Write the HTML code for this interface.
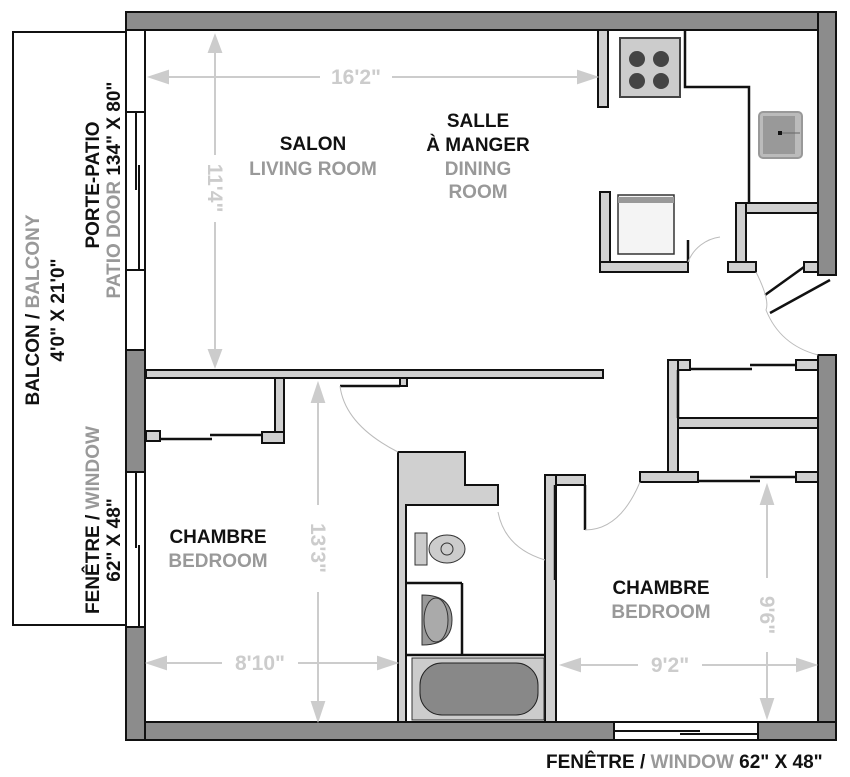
<!DOCTYPE html>
<html><head><meta charset="utf-8"><style>
html,body{margin:0;padding:0;background:#fff;}
svg{display:block;}
text{font-family:"Liberation Sans Narrow","Liberation Sans",sans-serif;font-weight:bold;}
.k{fill:#111;}.g{fill:#999;}
.d{fill:#ccc;font-family:"Liberation Sans",sans-serif;font-weight:normal;}
</style></head><body>
<svg width="850" height="777" viewBox="0 0 850 777" xmlns="http://www.w3.org/2000/svg">
<rect x="13" y="32" width="113" height="593" fill="#fff" stroke="#111" stroke-width="2"/>
<g fill="#8c8c8c" stroke="#111" stroke-width="2">
<rect x="126" y="12" width="710" height="18"/>
<rect x="818" y="12" width="18" height="263"/>
<rect x="818" y="355" width="18" height="385"/>
<rect x="126" y="722" width="488" height="18"/>
<rect x="758" y="722" width="78" height="18"/>
<rect x="126" y="350" width="19" height="122"/>
<rect x="126" y="627" width="19" height="113"/>
</g>
<g fill="none" stroke="#111" stroke-width="2">
<rect x="126" y="30" width="19" height="320"/>
<line x1="126" y1="112" x2="145" y2="112"/><line x1="126" y1="270" x2="145" y2="270"/>
<line x1="136" y1="112" x2="136" y2="190"/><line x1="139" y1="165" x2="139" y2="270"/>
<rect x="126" y="472" width="19" height="155"/>
<line x1="136" y1="472" x2="136" y2="548"/><line x1="139" y1="545" x2="139" y2="627"/>
<rect x="614" y="722" width="144" height="18"/>
<line x1="614" y1="731" x2="700" y2="731"/><line x1="680" y1="734" x2="758" y2="734"/>
</g>
<g fill="#d0d0d0" stroke="#111" stroke-width="2">
<rect x="146" y="370" width="457" height="8"/>
<rect x="275" y="378" width="9" height="65"/>
<rect x="262" y="432" width="22" height="11"/>
<rect x="146" y="431" width="14" height="10"/>
<rect x="400" y="378" width="7" height="8"/>
<rect x="598" y="30" width="10" height="77"/>
<rect x="600" y="192" width="10" height="80"/>
<rect x="600" y="262" width="88" height="10"/>
<rect x="736" y="203" width="82" height="10"/>
<rect x="736" y="203" width="10" height="62"/>
<rect x="728" y="262" width="28" height="10"/>
<rect x="804" y="262" width="14" height="10"/>
<rect x="668" y="360" width="22" height="10"/>
<rect x="668" y="360" width="10" height="118"/>
<rect x="678" y="418" width="140" height="10"/>
<rect x="640" y="472" width="58" height="10"/>
<rect x="796" y="360" width="22" height="10"/>
<rect x="796" y="472" width="22" height="10"/>
<path d="M398 452 H465 V485 H498 V505 H406 V722 H398 Z"/>
<rect x="545" y="475" width="40" height="10"/>
<rect x="545" y="475" width="11" height="247"/>
</g>
<g fill="none" stroke="#111" stroke-width="2.5">
<polyline points="685,30 685,87 749,87 749,203"/>
<line x1="160" y1="439" x2="212" y2="439"/><line x1="210" y1="435" x2="262" y2="435"/>
<line x1="340" y1="386" x2="400" y2="386"/>
<line x1="690" y1="369" x2="752" y2="369"/><line x1="750" y1="365" x2="796" y2="365"/>
<line x1="698" y1="481" x2="760" y2="481"/><line x1="750" y1="477" x2="796" y2="477"/>
<line x1="678" y1="370" x2="678" y2="418"/>
<line x1="765" y1="295" x2="804" y2="267"/><line x1="770" y1="313" x2="830" y2="280"/>
<line x1="688" y1="240" x2="688" y2="262"/>
<line x1="555" y1="485" x2="555" y2="580"/><line x1="585" y1="485" x2="585" y2="530"/>
<line x1="406" y1="583" x2="462" y2="583"/><line x1="462" y1="583" x2="462" y2="655"/>
<line x1="406" y1="655" x2="545" y2="655"/>
</g>
<g fill="none" stroke="#bbb" stroke-width="1">
<path d="M720 237 A40 40 0 0 0 688 262"/>
<path d="M756 272 Q770 300 766 310 Q780 345 818 355"/>
<path d="M340 386 Q345 425 398 452"/>
<path d="M498 512 Q505 548 545 560"/>
<path d="M640 482 Q620 530 585 530"/>
</g>
<rect x="620" y="38" width="60" height="59" fill="#ccc" stroke="#444" stroke-width="2"/>
<g fill="#444"><circle cx="637" cy="59" r="8"/><circle cx="661" cy="59" r="8"/><circle cx="637" cy="81" r="8"/><circle cx="661" cy="81" r="8"/></g>
<rect x="618" y="195" width="56" height="59" fill="#f4f4f4" stroke="#333" stroke-width="1.5"/>
<rect x="618" y="197" width="56" height="6" fill="#999"/>
<rect x="759" y="112" width="43" height="46" rx="4" fill="#bbb" stroke="#999" stroke-width="2"/>
<rect x="763" y="116" width="32" height="38" fill="#999"/>
<rect x="778" y="131" width="4" height="4" fill="#111"/>
<line x1="782" y1="133" x2="800" y2="133" stroke="#666"/>
<rect x="415" y="533" width="12" height="32" fill="#ccc" stroke="#333"/>
<ellipse cx="447" cy="549" rx="18" ry="14" fill="#ccc" stroke="#333"/>
<circle cx="447" cy="549" r="6" fill="none" stroke="#333"/>
<path d="M422 595 Q452 595 452 620 Q452 645 422 645 Z" fill="#999" stroke="#333"/>
<ellipse cx="436" cy="620" rx="12" ry="22" fill="#aaa" stroke="#333"/>
<rect x="412" y="658" width="132" height="62" fill="#ccc" stroke="#333"/>
<rect x="420" y="663" width="118" height="52" rx="22" fill="#888" stroke="#222"/>
<g stroke="#ccc" stroke-width="2" fill="#ccc">
<line x1="165" y1="77" x2="320" y2="77"/><line x1="392" y1="77" x2="580" y2="77"/>
<polygon points="150,77 168,71 168,83"/><polygon points="596,77 578,71 578,83"/>
<line x1="215" y1="48" x2="215" y2="155"/><line x1="215" y1="222" x2="215" y2="352"/>
<polygon points="215,36 209,52 221,52"/><polygon points="215,366 209,350 221,350"/>
<line x1="318" y1="400" x2="318" y2="505"/><line x1="318" y1="592" x2="318" y2="705"/>
<polygon points="318,384 312,402 324,402"/><polygon points="318,720 312,702 324,702"/>
<line x1="165" y1="663" x2="222" y2="663"/><line x1="298" y1="663" x2="380" y2="663"/>
<polygon points="148,663 166,657 166,669"/><polygon points="396,663 378,657 378,669"/>
<line x1="578" y1="665" x2="638" y2="665"/><line x1="702" y1="665" x2="800" y2="665"/>
<polygon points="562,665 580,659 580,671"/><polygon points="815,665 797,659 797,671"/>
<line x1="767" y1="500" x2="767" y2="578"/><line x1="767" y1="652" x2="767" y2="700"/>
<polygon points="767,486 761,504 773,504"/><polygon points="767,717 761,699 773,699"/>
</g>
<g class="d" font-size="21">
<text x="356" y="84" text-anchor="middle">16'2"</text>
<text x="260" y="670" text-anchor="middle">8'10"</text>
<text x="670" y="672" text-anchor="middle">9'2"</text>
<text transform="translate(208,188) rotate(90)" text-anchor="middle">11'4"</text>
<text transform="translate(311,548) rotate(90)" text-anchor="middle">13'3"</text>
<text transform="translate(760,615) rotate(90)" text-anchor="middle">9'6"</text>
</g>
<g font-size="19" text-anchor="middle">
<text class="k" x="313" y="150">SALON</text><text class="g" x="313" y="175">LIVING ROOM</text>
<text class="k" x="478" y="127">SALLE</text><text class="k" x="478" y="151">À MANGER</text>
<text class="g" x="478" y="175">DINING</text><text class="g" x="478" y="198">ROOM</text>
<text class="k" x="218" y="543">CHAMBRE</text><text class="g" x="218" y="567">BEDROOM</text>
<text class="k" x="661" y="594">CHAMBRE</text><text class="g" x="661" y="618">BEDROOM</text>
</g>
<g font-size="19" text-anchor="middle">
<text transform="translate(39,310) rotate(-90)"><tspan class="k">BALCON / </tspan><tspan class="g">BALCONY</tspan></text>
<text class="k" transform="translate(64,310) rotate(-90)">4'0" X 21'0"</text>
<text class="k" transform="translate(99,185) rotate(-90)">PORTE-PATIO</text>
<text transform="translate(120,190) rotate(-90)"><tspan class="g">PATIO DOOR </tspan><tspan class="k">134" X 80"</tspan></text>
<text transform="translate(99,520) rotate(-90)"><tspan class="k">FENÊTRE / </tspan><tspan class="g">WINDOW</tspan></text>
<text class="k" transform="translate(120,540) rotate(-90)">62" X 48"</text>
</g>
<text x="546" y="768" font-size="19"><tspan class="k">FENÊTRE / </tspan><tspan class="g">WINDOW </tspan><tspan class="k">62" X 48"</tspan></text>
</svg>
</body></html>
